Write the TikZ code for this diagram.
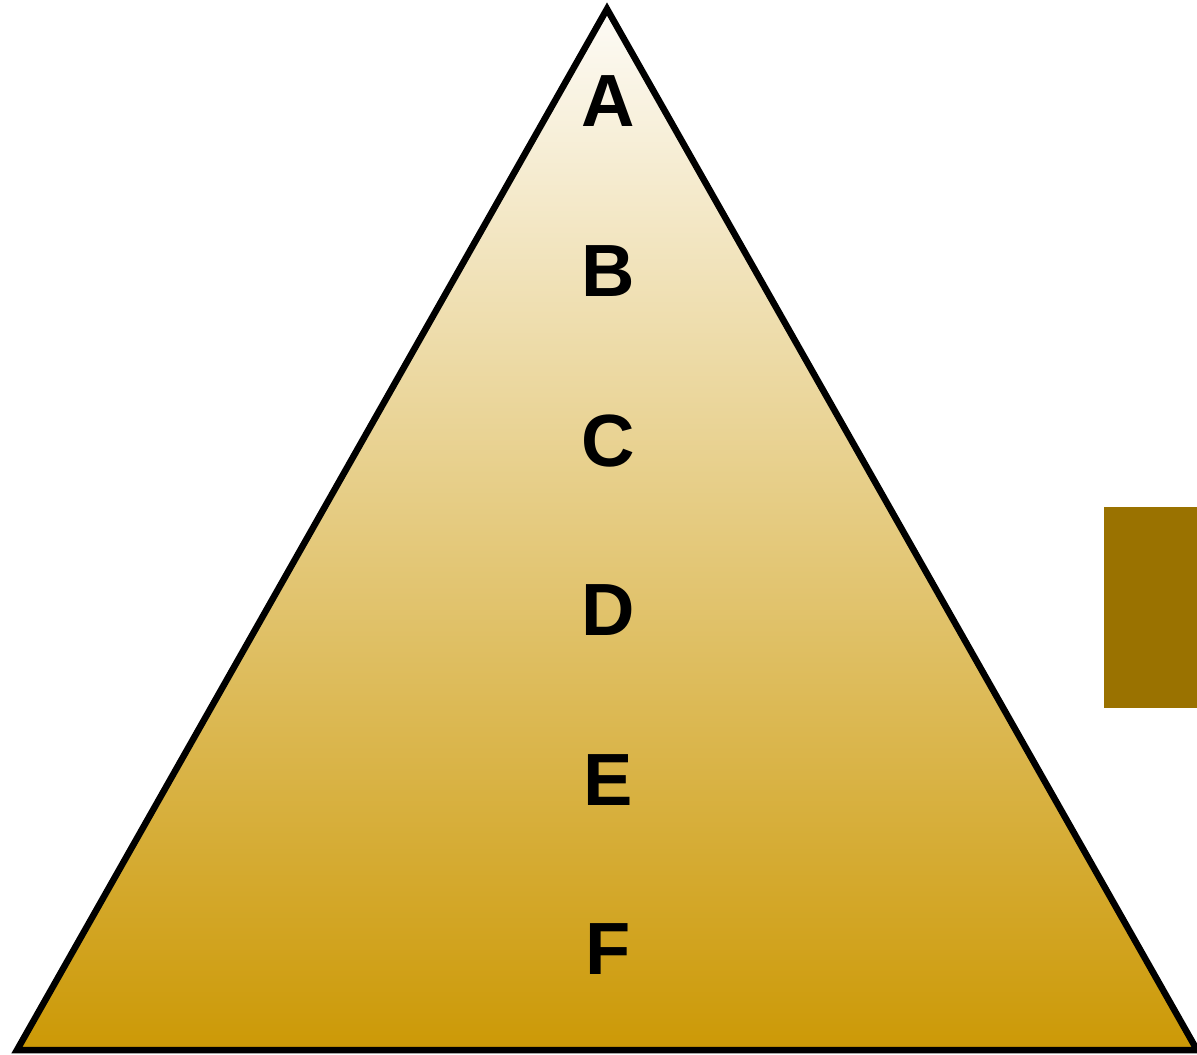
\documentclass[tikz,border=0pt]{standalone}
\usepackage{fontspec}
\setmainfont{Liberation Sans}
\definecolor{topc}{RGB}{253,251,246}
\definecolor{botc}{RGB}{204,153,6}
\definecolor{boxc}{RGB}{154,114,0}
\tikzset{lab/.style={font=\fontsize{74}{74}\selectfont\bfseries, inner sep=0pt, anchor=center}}
\begin{document}
\begin{tikzpicture}[x=1pt,y=-1pt]
\useasboundingbox (0,0) rectangle (1197,1055);
\coordinate (apex) at (607,9);
\coordinate (bl) at (17,1050);
\coordinate (br) at (1197,1050);
\shade[top color=topc, bottom color=botc] (apex) -- (br) -- (bl) -- cycle;
\draw[line width=6.5pt, line join=miter] (apex) -- (br) -- (bl) -- cycle;
\fill[boxc] (1104,507) rectangle (1197,708);
\node[lab] (A) at (608,101.5) {A};
\node[lab] (B) at (608,271.5) {B};
\node[lab] (C) at (608,441.5) {C};
\node[lab] (D) at (608,610.5) {D};
\node[lab] (E) at (608,780.5) {E};
\node[lab] (F) at (608,949.5) {F};
\end{tikzpicture}
\end{document}
